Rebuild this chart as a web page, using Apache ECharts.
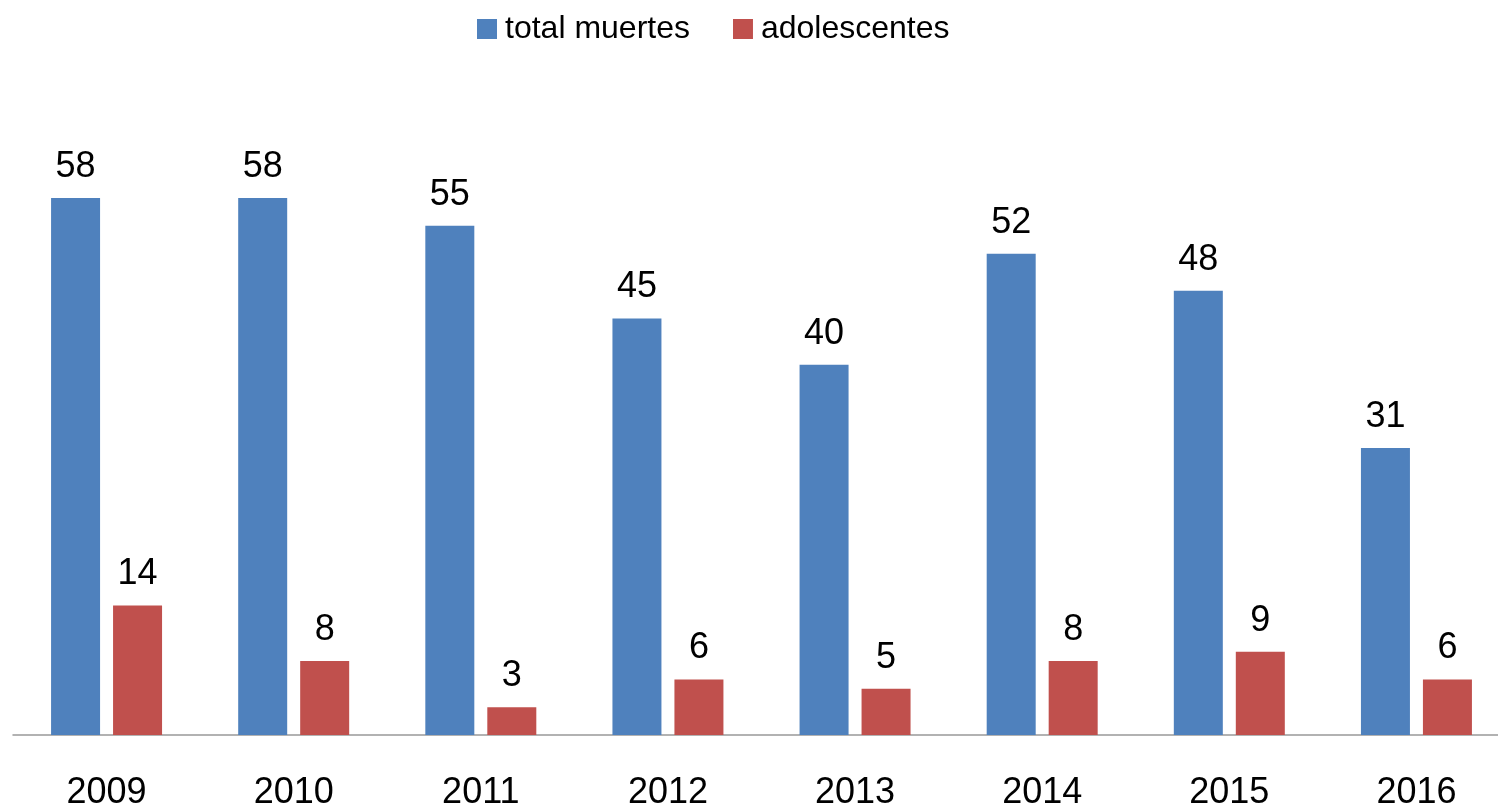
<!DOCTYPE html>
<html lang="es">
<head>
    <meta charset="UTF-8">
    <title>Muertes</title>
    <script src="https://cdn.jsdelivr.net/npm/echarts@6/dist/echarts.min.js"></script>
    <style>
        html, body { margin: 0; padding: 0; background: #fff; overflow: hidden; }
        /* el grafico original esta recortado por la derecha */
        #box { width: 1510px; height: 811px; }
    </style>
</head>
<body>
<div id="box"></div>
<script>
    // datos
    var years = ['2009', '2010', '2011', '2012', '2013', '2014', '2015', '2016'];
    var totalMuertes = [58, 58, 55, 45, 40, 52, 48, 31];
    var adolescentes = [14, 8, 3, 6, 5, 8, 9, 6];

    var myChart = echarts.init(document.getElementById('box'));
    var fontFam = '"Liberation Sans", Arial, sans-serif';

    var option = {
        animation: false,
        textStyle: { fontFamily: fontFam },
        legend: {
            top: 8,
            left: 472,
            itemWidth: 20,
            itemHeight: 20,
            itemGap: 43,
            icon: 'rect',
            textStyle: { fontSize: 32, color: '#000', fontFamily: fontFam, padding: [0, 0, 0, 3] },
            data: ['total muertes', 'adolescentes']
        },
        grid: {
            left: 13,
            top: 87,
            right: 0,
            bottom: 75
        },
        xAxis: {
            type: 'category',
            data: years,
            axisLine: { lineStyle: { color: '#999', width: 1.5 } },
            axisTick: { show: false },
            axisLabel: { fontSize: 36, color: '#000', margin: 40, fontFamily: fontFam }
        },
        yAxis: {
            type: 'value',
            min: 0,
            max: 70,
            show: false
        },
        series: [
            {
                name: 'total muertes',
                type: 'bar',
                barWidth: 49,
                barGap: '26.5%',
                itemStyle: { color: '#4F81BD' },
                label: { show: true, position: 'top', distance: 13, fontSize: 36, color: '#000' },
                data: totalMuertes
            },
            {
                name: 'adolescentes',
                type: 'bar',
                barWidth: 49,
                itemStyle: { color: '#C0504D' },
                label: { show: true, position: 'top', distance: 13, fontSize: 36, color: '#000' },
                data: adolescentes
            }
        ]
    };
    myChart.setOption(option);
</script>
</body>
</html>
